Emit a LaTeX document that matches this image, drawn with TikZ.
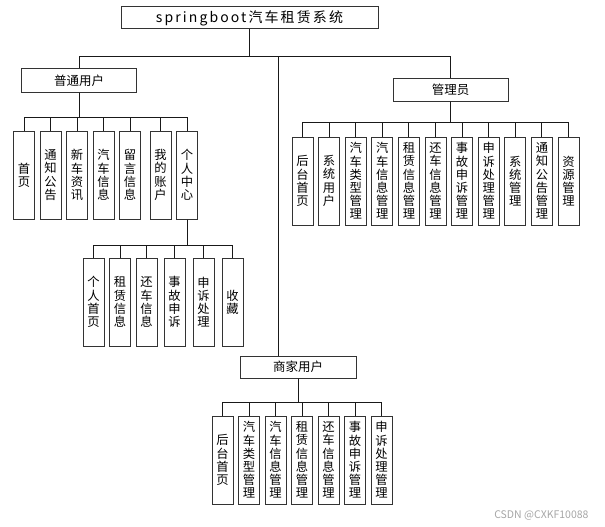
\documentclass[tikz,border=0pt]{standalone}
\usepackage{fontspec}
\setmainfont{Noto Sans CJK SC}
\usetikzlibrary{positioning}

\begin{document}
\begin{tikzpicture}[
  x=1pt, y=-1pt,
  font=\fontsize{12.5}{15}\selectfont,
  head/.style={rectangle, draw=black!80, line width=1pt, inner sep=0pt, minimum height=22pt},
  leaf/.style={rectangle, draw=black!80, line width=1pt, inner sep=0pt, minimum width=21pt, minimum height=88pt, align=center, font=\fontsize{12.3}{13.2}\selectfont},
  link/.style={draw=black!90, line width=0.9pt}
]
  \useasboundingbox (0,0) rectangle (605,527);

  % main boxes
  \node[head, minimum width=257pt, font=\fontsize{14}{16}\selectfont\addfontfeature{LetterSpace=15}] (root) at (249.5,18) {springboot汽车租赁系统};
  \node[head, minimum width=115pt, minimum height=23pt] (pu) at (79,80.5) {普通用户};
  \node[head, minimum width=115pt] (adm) at (450.5,90) {管理员};
  \node[head, minimum width=116pt] (merch) at (298,367) {商家用户};

  % 普通用户
  \node[leaf] (u1) at (24,175) {首\\页};
  \node[leaf, right=4.5pt of u1] (u2) {通\\知\\公\\告};
  \node[leaf, right=4.5pt of u2] (u3) {新\\车\\资\\讯};
  \node[leaf, right=4.5pt of u3] (u4) {汽\\车\\信\\息};
  \node[leaf, right=4.5pt of u4] (u5) {留\\言\\信\\息};
  \node[leaf, right=8.5pt of u5] (u6) {我\\的\\账\\户};
  \node[leaf, right=4.5pt of u6] (u7) {个\\人\\中\\心};

  % 个人中心
  \node[leaf] (p1) at (93.5,302) {个\\人\\首\\页};
  \node[leaf, right=4.5pt of p1] (p2) {租\\赁\\信\\息};
  \node[leaf, right=4.5pt of p2] (p3) {还\\车\\信\\息};
  \node[leaf, right=6pt of p3] (p4) {事\\故\\申\\诉};
  \node[leaf, right=7pt of p4] (p5) {申\\诉\\处\\理};
  \node[leaf, right=7pt of p5] (p6) {收\\藏};

  % 管理员
  \node[leaf] (a1) at (302.5,181) {后\\台\\首\\页};
  \node[leaf, right=4.6pt of a1] (a2) {系\\统\\用\\户};
  \node[leaf, right=4.6pt of a2] (a3) {汽\\车\\类\\型\\管\\理};
  \node[leaf, right=4.6pt of a3] (a4) {汽\\车\\信\\息\\管\\理};
  \node[leaf, right=4.6pt of a4] (a5) {租\\赁\\信\\息\\管\\理};
  \node[leaf, right=4.6pt of a5] (a6) {还\\车\\信\\息\\管\\理};
  \node[leaf, right=4.6pt of a6] (a7) {事\\故\\申\\诉\\管\\理};
  \node[leaf, right=4.6pt of a7] (a8) {申\\诉\\处\\理\\管\\理};
  \node[leaf, right=4.6pt of a8] (a9) {系\\统\\管\\理};
  \node[leaf, right=4.6pt of a9] (a10) {通\\知\\公\\告\\管\\理};
  \node[leaf, right=4.6pt of a10] (a11) {资\\源\\管\\理};

  % 商家用户
  \node[leaf] (m1) at (222.5,460) {后\\台\\首\\页};
  \node[leaf, right=4.5pt of m1] (m2) {汽\\车\\类\\型\\管\\理};
  \node[leaf, right=4.5pt of m2] (m3) {汽\\车\\信\\息\\管\\理};
  \node[leaf, right=4.5pt of m3] (m4) {租\\赁\\信\\息\\管\\理};
  \node[leaf, right=4.5pt of m4] (m5) {还\\车\\信\\息\\管\\理};
  \node[leaf, right=4.5pt of m5] (m6) {事\\故\\申\\诉\\管\\理};
  \node[leaf, right=4.5pt of m6] (m7) {申\\诉\\处\\理\\管\\理};

  \node[font=\fontsize{10.5}{12}\selectfont, text=black!35, anchor=east] (wm) at (592,515) {CSDN @CXKF10088};

  % tree lines
  \draw[link] (root.south) -- ++(0,27) coordinate (tb) -| (pu.north);
  \draw[link] (tb) -| (adm.north);
  \coordinate (mid) at ([xshift=39pt]merch.north west);
  \draw[link] (mid) -- (mid |- tb);
  \foreach \i in {1,...,7} \draw[link] (pu.south) -- ++(0,24.5) -| (u\i.north);
  \foreach \i in {1,...,6} \draw[link] (u7.south) -- ++(0,26) -| (p\i.north);
  \foreach \i in {1,...,11} \draw[link] (adm.south) -- ++(0,21) -| (a\i.north);
  \foreach \i in {1,...,7} \draw[link] (merch.south) -- ++(0,24) -| (m\i.north);
\end{tikzpicture}
\end{document}
